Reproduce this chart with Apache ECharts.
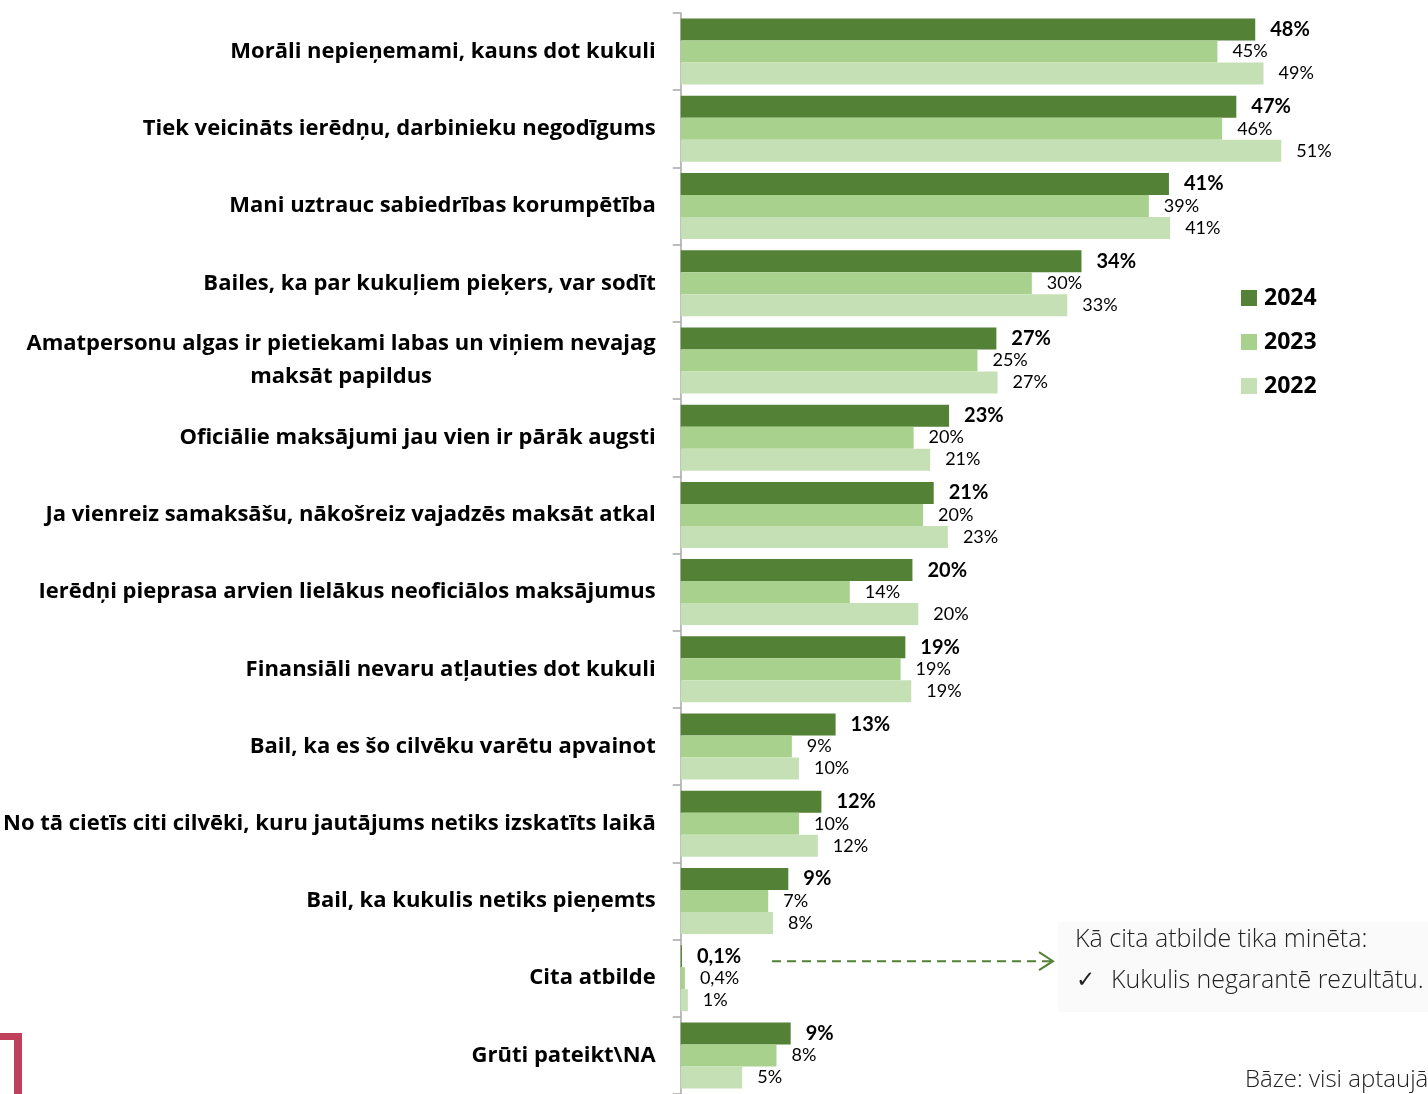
<!DOCTYPE html>
<html>
<head>
<meta charset="utf-8">
<script src="https://cdn.jsdelivr.net/npm/echarts@6/dist/echarts.min.js"></script>
<style>
html,body{margin:0;padding:0;background:#fff;}
#chart{width:1428px;height:1094px;}
</style>
</head>
<body>
<div id="chart"></div>
<script>
const categories = [
  "Morāli nepieņemami, kauns dot kukuli",
  "Tiek veicināts ierēdņu, darbinieku negodīgums",
  "Mani uztrauc sabiedrības korumpētība",
  "Bailes, ka par kukuļiem pieķers, var sodīt",
  "Amatpersonu algas ir pietiekami labas un viņiem nevajag\nmaksāt papildus",
  "Oficiālie maksājumi jau vien ir pārāk augsti",
  "Ja vienreiz samaksāšu, nākošreiz vajadzēs maksāt atkal",
  "Ierēdņi pieprasa arvien lielākus neoficiālos maksājumus",
  "Finansiāli nevaru atļauties dot kukuli",
  "Bail, ka es šo cilvēku varētu apvainot",
  "No tā cietīs citi cilvēki, kuru jautājums netiks izskatīts laikā",
  "Bail, ka kukulis netiks pieņemts",
  "Cita atbilde",
  "Grūti pateikt\\NA"
];
const seriesNames = ["2024", "2023", "2022"];
// bar lengths (%)
const values2024 = [48.6, 47.0, 41.3, 33.9, 26.7, 22.7, 21.4, 19.6, 19.0, 13.1, 11.9, 9.1, 0.1, 9.3];
const values2023 = [45.4, 45.8, 39.6, 29.7, 25.1, 19.7, 20.5, 14.3, 18.6, 9.4, 10.0, 7.4, 0.35, 8.1];
const values2022 = [49.3, 50.8, 41.4, 32.7, 26.8, 21.1, 22.6, 20.1, 19.5, 10.0, 11.6, 7.8, 0.6, 5.2];
// value labels as printed
const labels2024 = ["48%", "47%", "41%", "34%", "27%", "23%", "21%", "20%", "19%", "13%", "12%", "9%", "0,1%", "9%"];
const labels2023 = ["45%", "46%", "39%", "30%", "25%", "20%", "20%", "14%", "19%", "9%", "10%", "7%", "0,4%", "8%"];
const labels2022 = ["49%", "51%", "41%", "33%", "27%", "21%", "23%", "20%", "19%", "10%", "12%", "8%", "1%", "5%"];
const noteTitle = "Kā cita atbilde tika minēta:";
const noteItem = "Kukulis negarantē rezultātu.";
const baseText = "Bāze: visi aptaujātie";

const colors = ["#538135", "#A9D18E", "#C5E0B4"];
const FONT = "Lato, 'Open Sans', sans-serif";
const CAT_FONT = "'Open Sans', Lato, sans-serif";

const chart = echarts.init(document.getElementById('chart'), null, {renderer: 'canvas'});

function mkSeries(name, vals, labs, color, bold) {
  return {
    name: name,
    type: 'bar',
    data: vals,
    barWidth: 22,
    barGap: '0%',
    itemStyle: {color: color},
    emphasis: {disabled: true},
    label: {
      show: true,
      position: 'right',
      distance: 15,
      fontFamily: FONT,
      fontSize: bold ? 20 : 18,
      fontWeight: bold ? 'bold' : 'normal',
      color: '#000',
      formatter: p => labs[p.dataIndex]
    }
  };
}

const catStyle = {fontFamily: CAT_FONT, fontSize: 22, fontWeight: 'bold', color: '#000'};

const option = {
  animation: false,
  backgroundColor: '#ffffff',
  color: colors,
  grid: {left: 679, top: 13, height: 1085, right: 38, containLabel: false},
  xAxis: {
    type: 'value', min: 0, max: 60, show: false,
    splitLine: {show: false}
  },
  yAxis: {
    type: 'category',
    data: categories,
    inverse: true,
    axisLine: {show: true, lineStyle: {color: '#A6A6A6', width: 1.5}},
    axisTick: {show: true, length: 8, lineStyle: {color: '#A6A6A6', width: 1.5}},
    axisLabel: Object.assign({
      margin: 25,
      formatter: function (v) {
        const parts = v.split('\n');
        if (parts.length === 1) return v;
        return '{a|' + parts[0] + '}\n{b|' + parts[1] + '}';
      },
      rich: {
        a: Object.assign({lineHeight: 33, align: 'right'}, catStyle),
        b: Object.assign({lineHeight: 33, align: 'center'}, catStyle)
      }
    }, catStyle)
  },
  legend: {
    orient: 'vertical',
    left: 1241,
    top: 286,
    padding: 0,
    itemWidth: 16,
    itemHeight: 16,
    itemGap: 20,
    icon: 'rect',
    selectedMode: false,
    data: seriesNames,
    textStyle: {fontFamily: CAT_FONT, fontSize: 23, fontWeight: 'bold', color: '#000', lineHeight: 24, padding: [0, 0, 0, 2]}
  },
  series: [
    mkSeries(seriesNames[0], values2024, labels2024, colors[0], true),
    mkSeries(seriesNames[1], values2023, labels2023, colors[1], false),
    mkSeries(seriesNames[2], values2022, labels2022, colors[2], false)
  ]
};
chart.setOption(option);

// annotation anchored to the "Cita atbilde" category
const yCita = chart.convertToPixel({yAxisIndex: 0}, categories[12]) - 17;
const xStart = 772, xEnd = 1053;
chart.setOption({
  graphic: [
    {type: 'rect', shape: {x: 1058, y: 922, width: 372, height: 90}, style: {fill: '#FAFAFA'}, silent: true, z: 0},
    {type: 'line', shape: {x1: xStart, y1: yCita, x2: xEnd, y2: yCita},
      style: {stroke: '#538135', lineWidth: 2, lineDash: [9, 6]}, silent: true},
    {type: 'polyline', shape: {points: [[xEnd - 14, yCita - 9], [xEnd, yCita], [xEnd - 14, yCita + 9]]},
      style: {stroke: '#538135', lineWidth: 2, fill: null}, silent: true},
    {type: 'text', left: 1075, top: 927, style: {text: noteTitle, font: '300 25px ' + CAT_FONT, fill: '#222'}, silent: true},
    {type: 'text', left: 1076, top: 970, style: {text: '✓', font: '23px DejaVu Sans', fill: '#222'}, silent: true},
    {type: 'text', left: 1111, top: 968, style: {text: noteItem, font: '300 25px ' + CAT_FONT, fill: '#222'}, silent: true},
    {type: 'text', left: 1245, top: 1068, style: {text: baseText, font: '300 24px ' + CAT_FONT, fill: '#222'}, silent: true},
    {type: 'rect', shape: {x: 0, y: 1033, width: 22, height: 7}, style: {fill: '#C0415B'}, silent: true},
    {type: 'rect', shape: {x: 14, y: 1033, width: 8, height: 70}, style: {fill: '#C0415B'}, silent: true}
  ]
});
</script>
</body>
</html>
